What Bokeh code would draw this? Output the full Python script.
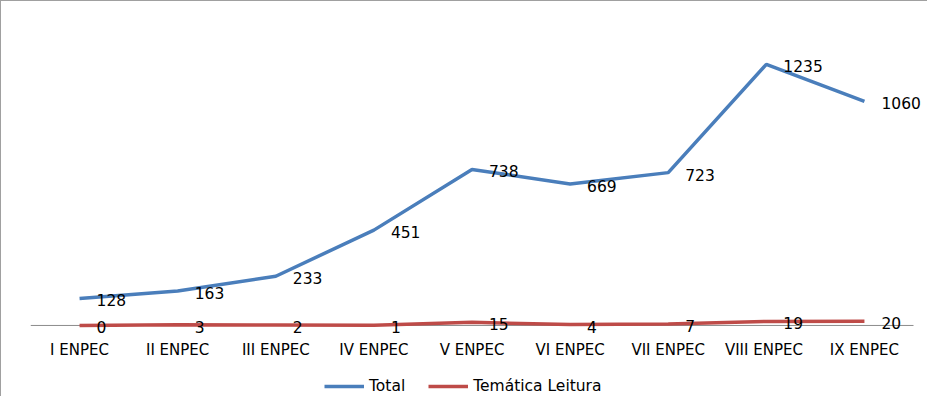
from bokeh.plotting import figure
from bokeh.models import (ColumnDataSource, LabelSet, Legend, LegendItem, Range1d)
from bokeh.core.properties import value
from bokeh.embed import file_html
from bokeh.resources import INLINE

categories = ["I ENPEC", "II ENPEC", "III ENPEC", "IV ENPEC", "V ENPEC",
              "VI ENPEC", "VII ENPEC", "VIII  ENPEC", "IX ENPEC"]
total = [128, 163, 233, 451, 738, 669, 723, 1235, 1060]
leitura = [0, 3, 2, 1, 15, 4, 7, 19, 20]

BLUE = "#4A7EBB"
RED = "#BE4B48"
FONT = "DejaVu Sans"

n = len(categories)
idx = list(range(n))
src_t = ColumnDataSource(dict(x=idx, y=total, t=[str(v) for v in total]))
src_l = ColumnDataSource(dict(x=idx, y=leitura, t=[str(v) for v in leitura]))
src_c = ColumnDataSource(dict(x=idx, y=[0] * n, t=categories))

axis_w = 883           # width of the category axis in px
fw = 897               # frame width (extra room on the right for labels)
cat_px = axis_w / n
x_end = n - 0.5 + (fw - axis_w) / cat_px

p = figure(frame_width=fw, frame_height=367,
           x_range=Range1d(-0.5, x_end),
           y_range=Range1d(-336, 1400), output_backend="svg", toolbar_location=None,
           min_border_left=29, min_border_right=0, min_border_top=28, min_border_bottom=0)
p.styles = {"border-left": "1px solid #A0A0A0", "border-top": "1px solid #A0A0A0"}

p.outline_line_color = None
p.grid.grid_line_color = None
p.xaxis.visible = False
p.yaxis.visible = False

# category axis line
p.segment(x0=[-0.5], y0=[0], x1=[n - 0.5], y1=[0], line_color="#8C8C8C", line_width=1)

r_t = p.line("x", "y", source=src_t, line_color=BLUE, line_width=3.5)
r_l = p.line("x", "y", source=src_l, line_color=RED, line_width=3.5)

for s in (src_t, src_l):
    p.add_layout(LabelSet(x="x", y="y", text="t", source=s, x_offset=17, y_offset=-2,
                          text_baseline="middle", text_font=value(FONT),
                          text_font_size="15.5px", text_color="#000000"))

# category labels under the axis line
p.add_layout(LabelSet(x="x", y="y", text="t", source=src_c, y_offset=-25,
                      text_align="center", text_baseline="middle", text_font=value(FONT),
                      text_font_size="15px", text_color="#000000"))

legend = Legend(items=[LegendItem(label="Total", renderers=[r_t]),
                       LegendItem(label="Temática Leitura", renderers=[r_l])],
                orientation="horizontal", location=(294, 1),
                label_text_font=FONT, label_text_font_size="15.5px",
                label_text_color="#000000",
                glyph_width=40, glyph_height=18, spacing=23, border_line_color=None,
                background_fill_alpha=0, padding=0, margin=0, label_standoff=5)
p.add_layout(legend, "center")

open("out.html", "w").write(file_html(p, INLINE))
